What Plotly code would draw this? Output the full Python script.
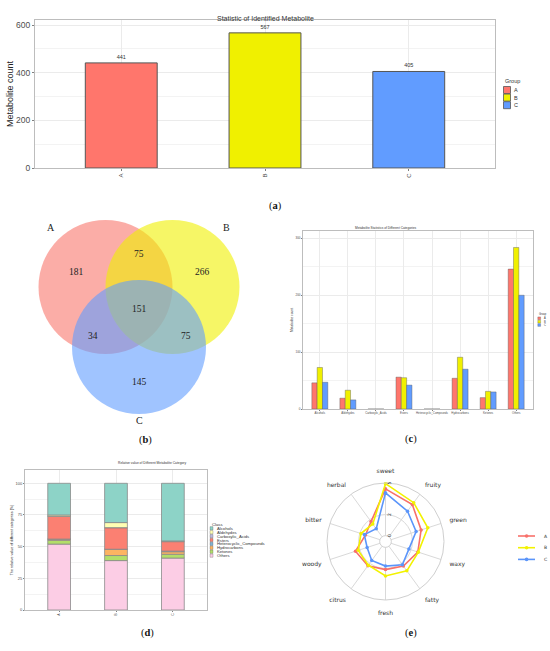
import numpy as np
import plotly.graph_objects as go

W, H = 550, 651

# ---- data ----
groups = ["A", "B", "C"]
metabolite_counts = [441, 567, 405]

# venn region counts
venn_sets = ["A", "B", "C"]
venn_regions = ["A", "B", "C", "AB", "AC", "BC", "ABC"]
venn_counts = [181, 266, 145, 75, 34, 75, 151]

categories = ["Alcohols", "Aldehydes", "Carboxylic_Acids", "Esters",
              "Heterocyclic_Compounds", "Hydrocarbons", "Ketones", "Others"]
cat_count_A = [46, 19, 0, 56, 0, 54, 20, 246]
cat_count_B = [73, 33, 0, 55, 0, 91, 31, 284]
cat_count_C = [47, 16, 0, 42, 0, 70, 30, 200]

# relative value (%) per category, same order as categories
rel_A = [25, 1, 0, 18, 0, 1, 3, 52]
rel_B = [31, 4, 0, 17, 0, 5, 4, 39]
rel_C = [45.5, 0.5, 0, 7.5, 0.5, 2, 3, 41]

flavours = ["sweet", "fruity", "green", "waxy", "fatty",
            "fresh", "citrus", "woody", "bitter", "herbal"]
flav_A = [4.44, 3.78, 3.0, 2.67, 2.33, 2.11, 2.28, 2.44, 1.44, 1.78]
flav_B = [4.94, 4.0, 3.67, 2.72, 2.89, 2.72, 2.22, 2.17, 1.89, 1.5]
flav_C = [4.06, 3.0, 2.5, 1.78, 2.17, 1.78, 1.67, 1.28, 1.56, 0.94]
radial_ticks = [0, 2, 5]

# ---- styles ----
group_colors = ["#FF766C", "#F0F000", "#619CFF"]
venn_fill = ["rgba(248,118,109,0.6)", "rgba(240,240,0,0.6)", "rgba(97,156,255,0.6)"]
class_colors = ["#8DD3C7", "#FFFFB3", "#BEBADA", "#FB8072",
                "#80B1D3", "#FDB462", "#B3DE69", "#FCCDE5"]
radar_colors = ["#F8706A", "#F2F200", "#5B95FA"]
SANS = "Liberation Sans"
SERIF = "Liberation Serif"
GRID = "#EBEBEB"


def px(x):
    return x / W


def py(y):
    return 1 - y / H


def framed(domain, anchor, line_w, **kw):
    d = dict(domain=domain, anchor=anchor, showline=True, mirror=True,
             linecolor="#BDBDBD", linewidth=line_w, showgrid=True,
             gridcolor=GRID, gridwidth=0.6, zeroline=False, automargin=False,
             ticks="outside", tickcolor="#7F7F7F", ticklen=2, tickwidth=0.6)
    d.update(kw)
    return d


fig = go.Figure()

# (a) identified metabolites
fig.add_trace(go.Bar(
    x=groups, y=metabolite_counts, width=0.5, marker_color=group_colors,
    marker_line=dict(color="#555555", width=1), text=metabolite_counts,
    textposition="outside", textfont=dict(size=5.5, color="#333333", family=SANS),
    cliponaxis=False, xaxis="x", yaxis="y", showlegend=False))

# (c) counts per category
for g, vals, col in zip(groups, [cat_count_A, cat_count_B, cat_count_C], group_colors):
    fig.add_trace(go.Bar(
        x=categories, y=vals, name=g, marker_color=col, offsetgroup="c" + g,
        marker_line=dict(color="#555555", width=0.4),
        xaxis="x3", yaxis="y3", showlegend=False))

# (d) relative stacked bars (Others at bottom)
rel = np.array([rel_A, rel_B, rel_C])
order = list(range(len(categories)))[::-1]
base = np.zeros(3)
for i in order:
    fig.add_trace(go.Bar(
        x=groups, y=rel[:, i], base=base.copy(), width=0.4, offsetgroup="d",
        marker_color=class_colors[i], marker_line=dict(color="#8A8A8A", width=0.8),
        name=categories[i], xaxis="x4", yaxis="y4", showlegend=False))
    base += rel[:, i]

# (e) radar
for g, vals, col in zip(groups, [flav_A, flav_B, flav_C], radar_colors):
    fig.add_trace(go.Scatterpolar(
        r=vals + vals[:1], theta=flavours + flavours[:1], mode="lines+markers",
        line=dict(color=col, width=1.6), marker=dict(size=3.5, color=col),
        name=g, showlegend=False))

shapes = []
annots = []

# (b) venn circles, geometry in pixel units of the venn axis
venn_geom = {"A": (105.5, 287, 67), "B": (172.5, 287, 67), "C": (139, 347, 67)}
for s, fc in zip(venn_sets, venn_fill):
    cx, cy, r = venn_geom[s]
    shapes.append(dict(type="circle", xref="x2", yref="y2", x0=cx - r, x1=cx + r,
                       y0=cy - r, y1=cy + r, fillcolor=fc, line=dict(width=0)))
venn_label_pos = {"A": (51, 227), "B": (226, 227), "C": (139, 420)}
for s in venn_sets:
    x, y = venn_label_pos[s]
    annots.append(dict(x=x, y=y, xref="x2", yref="y2", text=s, showarrow=False,
                       font=dict(family=SERIF, size=10, color="#222")))
venn_count_pos = {"A": (76, 272), "B": (202, 272), "C": (139, 382), "AB": (139, 254),
                  "AC": (93, 336), "BC": (186, 336), "ABC": (139, 309)}
for reg, n in zip(venn_regions, venn_counts):
    x, y = venn_count_pos[reg]
    annots.append(dict(x=x, y=y, xref="x2", yref="y2", text=str(n), showarrow=False,
                       font=dict(family=SERIF, size=9.5, color="#222")))


def box_legend(title, names, colors, x0, y_title, y_first, step, sw, fsize, lw):
    annots.append(dict(x=px(x0), y=py(y_title), xref="paper", yref="paper", text=title,
                       showarrow=False, xanchor="left", yanchor="middle",
                       font=dict(family=SANS, size=fsize, color="#333")))
    for k, (n, c) in enumerate(zip(names, colors)):
        yc = y_first + k * step
        shapes.append(dict(type="rect", xref="paper", yref="paper",
                           x0=px(x0 + 0.5), x1=px(x0 + 0.5 + sw),
                           y0=py(yc - step / 2 + 0.3), y1=py(yc + step / 2 - 0.3),
                           fillcolor=c, line=dict(color="#555", width=lw)))
        annots.append(dict(x=px(x0 + sw + 2), y=py(yc), xref="paper", yref="paper",
                           text=n, showarrow=False, xanchor="left", yanchor="middle",
                           font=dict(family=SANS, size=fsize, color="#333")))


box_legend("Group", groups, group_colors, 503, 81, 90, 7.6, 7, 5.5, 0.8)
box_legend("Group", groups, group_colors, 537.3, 314, 318.3, 3.35, 2.8, 2.6, 0.3)
box_legend("Class", categories, class_colors, 209.5, 524, 528.3, 3.9, 3, 4.2, 0.3)

# radar legend
for k, (g, col) in enumerate(zip(groups, radar_colors)):
    yc = 536 + k * 11.7
    shapes.append(dict(type="line", xref="paper", yref="paper", x0=px(518), x1=px(535),
                       y0=py(yc), y1=py(yc), line=dict(color=col, width=1.6)))
    shapes.append(dict(type="circle", xref="paper", yref="paper", x0=px(524.8), x1=px(528.4),
                       y0=py(yc + 1.8), y1=py(yc - 1.8), fillcolor=col, line=dict(width=0)))
    annots.append(dict(x=px(542), y=py(yc), xref="paper", yref="paper", text=g,
                       showarrow=False, xanchor="left", yanchor="middle",
                       font=dict(family="DejaVu Sans", size=4.5, color="#333")))

# titles
annots.append(dict(x=px(265), y=py(13), xref="paper", yref="paper", showarrow=False,
                   text="Statistic of Identified Metabolite",
                   font=dict(family=SANS, size=7, color="#333")))
annots.append(dict(x=px(418), y=py(228.3), xref="paper", yref="paper", showarrow=False,
                   text="Metabolite Statistics of Different Categories",
                   font=dict(family=SANS, size=3.2, color="#333")))
annots.append(dict(x=px(116), y=py(467), xref="paper", yref="paper", showarrow=False,
                   text="Relative value of Different Metabolite Category",
                   font=dict(family=SANS, size=3.3, color="#333")))

# panel letters
for lab, x, y in [("a", 275, 198), ("b", 137, 448), ("c", 419, 447),
                  ("d", 139, 641), ("e", 419, 641)]:
    annots.append(dict(x=px(x), y=py(y), xref="paper", yref="paper", showarrow=False,
                       text="(<b>%s</b>)" % lab,
                       font=dict(family=SERIF, size=10.5, color="#111")))

fig.update_layout(
    width=W, height=H, margin=dict(l=0, r=0, t=0, b=0),
    template="none", paper_bgcolor="white", plot_bgcolor="white",
    barmode="group", bargap=0.43, bargroupgap=0,
    showlegend=False,
    xaxis=framed([px(35), px(495)], "y", 1.2, range=[-0.6, 2.6], tickangle=-90,
                 tickfont=dict(family=SANS, size=6, color="#4D4D4D")),
    yaxis=framed([py(168), py(20)], "x", 1.2, range=[0, 621], dtick=200,
                 tickfont=dict(family=SANS, size=8.5, color="#4D4D4D"),
                 minor=dict(dtick=100, showgrid=True, gridcolor="#F3F3F3"),
                 title=dict(text="Metabolite count", standoff=0,
                            font=dict(family=SANS, size=9, color="#222"))),
    xaxis2=dict(domain=[0, px(275)], anchor="y2", range=[0, 275], visible=False,
                automargin=False),
    yaxis2=dict(domain=[py(430), py(200)], anchor="x2", range=[430, 200], visible=False,
                automargin=False),
    xaxis3=framed([px(303), px(533)], "y3", 0.8, range=[-0.6, 7.6], ticklen=1,
                  tickfont=dict(family=SANS, size=2.8, color="#4D4D4D")),
    yaxis3=framed([py(409), py(231)], "x3", 0.8, range=[0, 313], dtick=100, ticklen=1,
                  tickfont=dict(family=SANS, size=3, color="#4D4D4D"),
                  minor=dict(dtick=50, showgrid=True, gridcolor="#F3F3F3"),
                  title=dict(text="Metabolite count", standoff=2,
                             font=dict(family=SANS, size=3.3, color="#222"))),
    xaxis4=framed([px(25), px(207)], "y4", 0.8, range=[-0.6, 2.6], tickangle=-90, ticklen=1,
                  tickfont=dict(family=SANS, size=3.5, color="#4D4D4D")),
    yaxis4=framed([py(610), py(470)], "x4", 0.8, range=[0, 110.5], dtick=25, ticklen=1,
                  tickfont=dict(family=SANS, size=4, color="#4D4D4D"),
                  minor=dict(dtick=12.5, showgrid=True, gridcolor="#F3F3F3"),
                  title=dict(text="The relative value of different categories (%)", standoff=2,
                             font=dict(family=SANS, size=3.6, color="#222"))),
    polar=dict(
        domain=dict(x=[px(327), px(444)], y=[py(600), py(483)]),
        hole=0.1, bgcolor="white",
        radialaxis=dict(range=[0, 5], tickvals=radial_ticks, angle=90, showline=False,
                        gridcolor="#D9D9D9", gridwidth=0.8, ticks="",
                        tickfont=dict(family="DejaVu Sans", size=4.5, color="#333")),
        angularaxis=dict(rotation=90, direction="clockwise", categoryorder="array",
                         categoryarray=flavours, gridcolor="#D9D9D9", gridwidth=0.8,
                         linecolor="#CFCFCF", linewidth=1,
                         ticks="outside", ticklen=7, tickcolor="rgba(0,0,0,0)",
                         tickfont=dict(family="DejaVu Sans", size=6, color="#333"))),
    shapes=shapes, annotations=annots,
)

# page body has a default margin; drop it so the figure sits at the window origin
fig.write_html("out.html", config={"displayModeBar": False},
               post_script="document.body.style.margin='0';")
